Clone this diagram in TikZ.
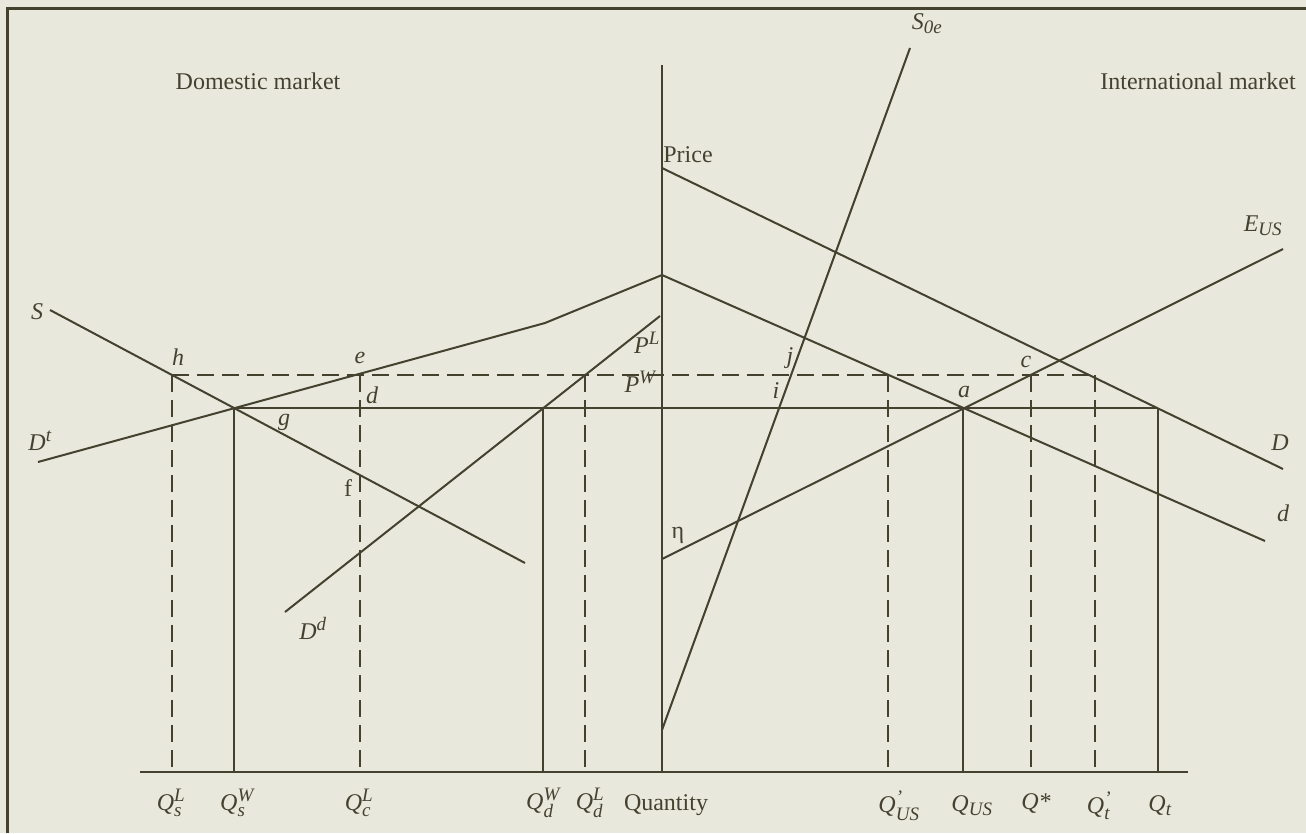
\documentclass[tikz,border=0pt]{standalone}
\usepackage{amsmath}
\usepackage{fontspec}
\setmainfont{Liberation Serif}
\usetikzlibrary{positioning}
\DeclareMathSizes{24}{24}{19}{15}
\definecolor{ink}{HTML}{45412F}
\definecolor{paper}{HTML}{E8E8DD}

\begin{document}
\begin{tikzpicture}[
  x=1pt, y=-1pt,
  curve/.style={draw=ink, line width=2pt},
  guide/.style={curve, dash pattern=on 17pt off 8pt},
  txt/.style={text=ink, font=\fontsize{24}{26}\selectfont, inner sep=0pt},
  lbl/.style={txt, font=\fontsize{24}{26}\selectfont\itshape}
]
  \useasboundingbox (0,0) rectangle (1306,833);
  \fill[paper] (0,0) rectangle (1306,833);
  \draw[ink, line width=3pt] (7,833) -- (7,8) -- (1306,8);

  % axes
  \coordinate (O)   at (662,772);
  \coordinate (top) at (662,65);
  \coordinate (xl)  at (140,772);
  \coordinate (xr)  at (1188,772);
  \draw[curve] (top) -- (O);
  \draw[curve] (xl) -- (xr);

  % price levels
  \coordinate (h)  at (172,375);
  \coordinate (e)  at (360,375);
  \coordinate (qdl) at (585,375);
  \coordinate (qus1) at (888,375);
  \coordinate (c)  at (1031,375);
  \coordinate (qt1) at (1095,375);
  \coordinate (qsw) at (234,408);
  \coordinate (qdw) at (543,408);
  \coordinate (a)  at (963,408);
  \coordinate (qt) at (1158,408);
  \draw[guide] (h) -- (qt1);
  \draw[curve] (qsw) -- (qt);
  \foreach \p in {h,e,qdl,qus1,c,qt1}
    \draw[guide] (\p) -- (\p |- O);
  \foreach \p in {qsw,qdw,a,qt}
    \draw[curve] (\p) -- (\p |- O);

  % curves
  \draw[curve] (50,310) -- (525,563);                     % S
  \draw[curve] (38,462) -- (545,323) -- (662,275) -- (1265,541); % D^t and d
  \draw[curve] (285,612) -- (660,316);                    % D^d
  \draw[curve] (662,168) -- (1283,469);                   % D
  \draw[curve] (662,559) -- (1283,249);                   % E_US
  \draw[curve] (662,730) -- (910,48);                     % S_0e

  % labels
  \node[txt] (dom)   at (258,81)  {Domestic market};
  \node[txt] (intl)  at (1198,81) {International market};
  \node[txt] (price) at (688,155) {Price};
  \node[lbl] (lS)    at (37,312)  {S};
  \node[lbl] (lDt)   at (40,441)  {D$^{\textit{t}}$};
  \node[lbl] (lh)    at (178,357) {h};
  \node[lbl] (le)    at (360,358) {e};
  \node[lbl] (ld)    at (372,395) {d};
  \node[lbl] (lg)    at (284,422) {g};
  \node[txt] (lf)    at (348,488) {f};
  \node[lbl] (lPL)   at (647,343) {P$^{\textit{L}}$};
  \node[lbl] (lPW)   at (640,382) {P$^{\textit{W}}$};
  \node[lbl] (lj)    at (790,358) {j};
  \node[lbl] (li)    at (776,391) {i};
  \node[lbl] (la)    at (964,392) {a};
  \node[lbl] (lc)    at (1026,362) {c};
  \node[lbl] (lE)    at (1263,226) {E$_{\textit{US}}$};
  \node[lbl] (lD)    at (1280,443) {D};
  \node[lbl] (ldd)   at (1283,513) {d};
  \node[txt] (leta)  at (678,535) {η};
  \node[lbl] (lS0)   at (927,24)  {S$_{\text{0}\textit{e}}$};
  \node[lbl] (lDd)   at (313,628) {D$^{\textit{d}}$};

  % quantity labels
  \node[lbl] (qa) at (171,803)  {Q$^{\textit{L}}_{\textit{s}}$};
  \node[lbl] (qb) at (237,803)  {Q$^{\textit{W}}_{\textit{s}}$};
  \node[lbl] (qc) at (359,803)  {Q$^{\textit{L}}_{\textit{c}}$};
  \node[lbl] (qd) at (543,803)  {Q$^{\textit{W}}_{\textit{d}}$};
  \node[lbl] (qe) at (590,803)  {Q$^{\textit{L}}_{\textit{d}}$};
  \node[txt] (qty) at (666,805) {Quantity};
  \node[lbl] (qf) at (899,806)  {Q$^{\text{'}}_{\textit{US}}$};
  \node[lbl] (qg) at (972,806)  {Q$_{\textit{US}}$};
  \node[lbl] (qh) at (1036,803) {Q*};
  \node[lbl] (qi) at (1099,806) {Q$^{\text{'}}_{\textit{t}}$};
  \node[lbl] (qj) at (1160,806) {Q$_{\textit{t}}$};
\end{tikzpicture}
\end{document}
